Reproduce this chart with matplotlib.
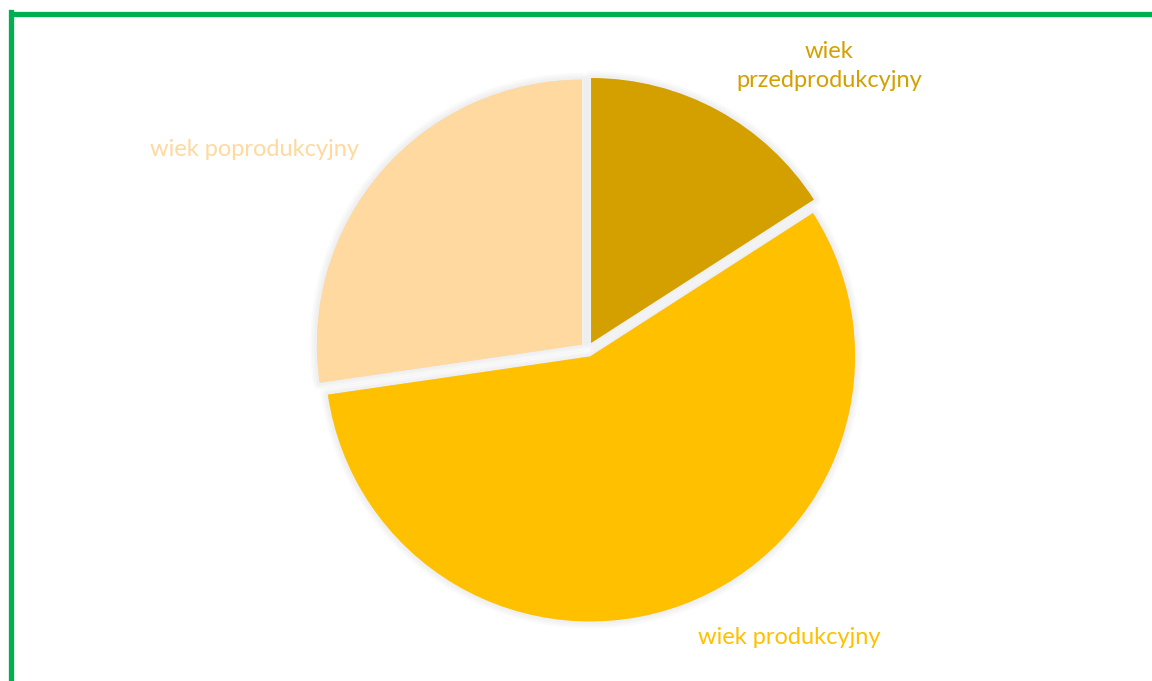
import matplotlib
matplotlib.use("Agg")
import matplotlib.pyplot as plt
from matplotlib.lines import Line2D

# Age-structure shares
categories = ["wiek\nprzedprodukcyjny", "wiek produkcyjny", "wiek poprodukcyjny"]
shares = [15.9, 56.8, 27.3]
colors = ["#D4A000", "#FFC000", "#FFD9A0"]

W, H = 1152, 681
fig = plt.figure(figsize=(W / 100, H / 100), dpi=100)
ax = fig.add_axes([0, 0, 1, 1])

center = (587.5, H - 349.5)
radius = 265
explode = [7.4] * len(shares)  # pie explode is in data units here (pixels)

# soft drop shadow: stacked translucent grey wedges
for lw in (10, 7, 4):
    sh, _ = ax.pie(shares, startangle=90, counterclock=False, explode=explode,
                   center=center, radius=radius,
                   colors=["#000000"] * len(shares),
                   wedgeprops={"linewidth": lw, "edgecolor": "#000000",
                               "alpha": 0.02, "joinstyle": "round"})
    for w in sh:
        w.set_zorder(1)

wedges, _ = ax.pie(shares, startangle=90, counterclock=False, explode=explode,
                   center=center, radius=radius, colors=colors,
                   wedgeprops={"linewidth": 0})
for w in wedges:
    w.set_zorder(2)

ax.set_xlim(0, W)
ax.set_ylim(0, H)
ax.set_aspect("equal")
ax.axis("off")

font = ["Lato", "DejaVu Sans"]
label_pos = [(829, 66), (789, 637), (255, 149)]
for name, col, (x, y) in zip(categories, colors, label_pos):
    ax.text(x, H - y, name, color=col, fontsize=17, family=font,
            ha="center", va="center", linespacing=1.45)

# green frame (left and top edges visible)
green = "#00B050"
fig.add_artist(Line2D([10.5 / W, 10.5 / W], [0, 1 - 11.5 / H],
                      transform=fig.transFigure, color=green, lw=3.8,
                      solid_capstyle="projecting"))
fig.add_artist(Line2D([10.5 / W, 1], [1 - 13.8 / H, 1 - 13.8 / H],
                      transform=fig.transFigure, color=green, lw=3.8,
                      solid_capstyle="butt"))

fig.savefig("out.png", dpi=100)
